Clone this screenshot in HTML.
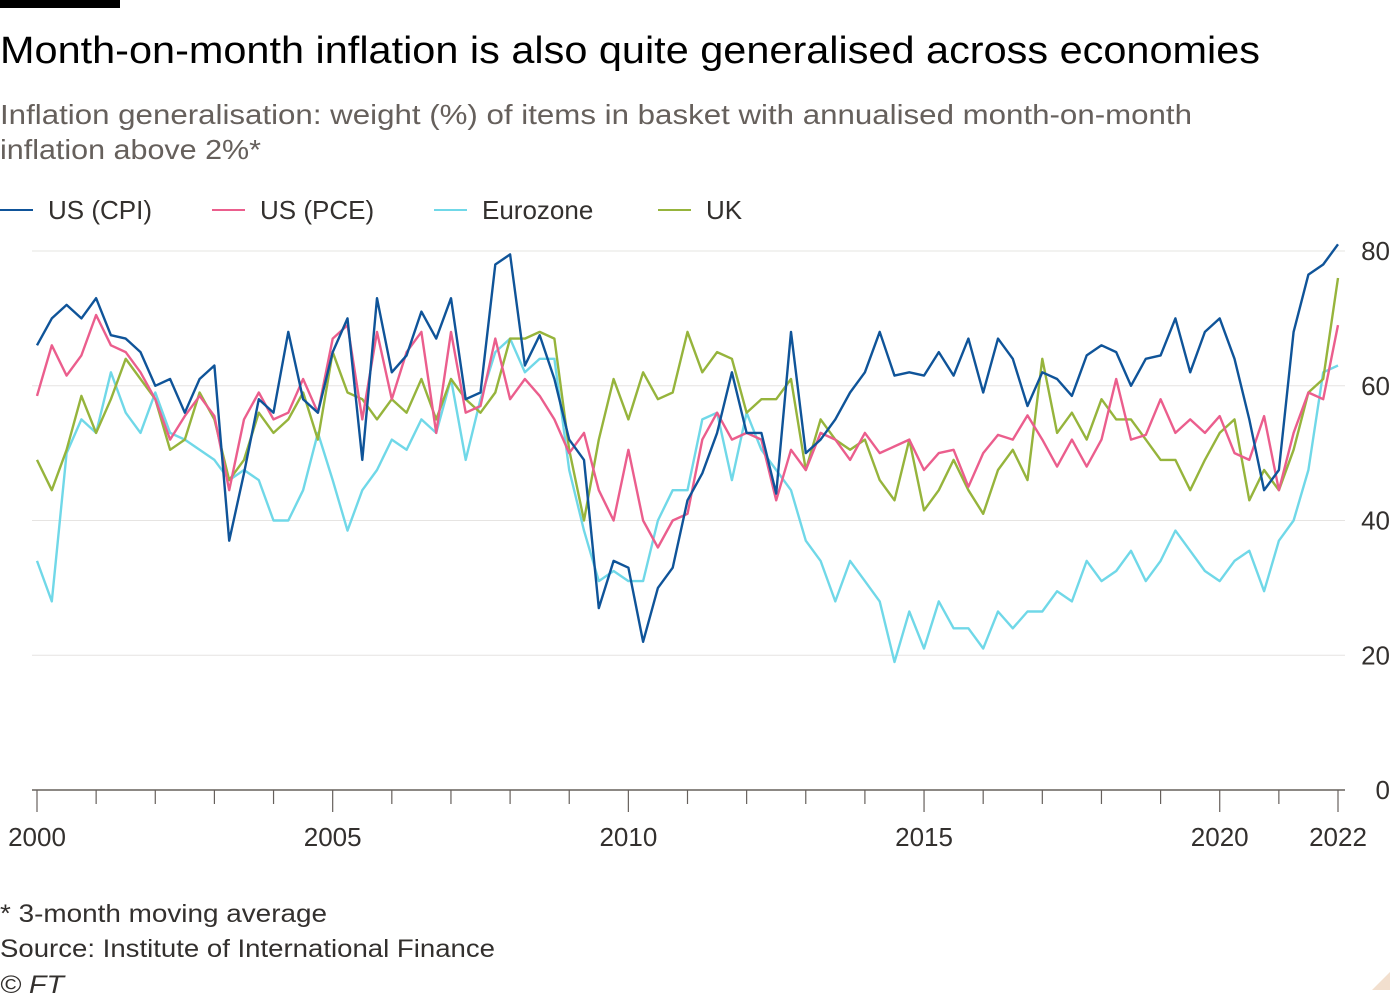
<!DOCTYPE html>
<html><head><meta charset="utf-8"><style>
body{margin:0;background:#fff;width:1400px;height:999px;overflow:hidden;font-family:"Liberation Sans",sans-serif;}
</style></head><body>
<svg width="1400" height="999" style="position:absolute;left:0;top:0">
<rect x="0" y="0" width="120" height="8" fill="#000"/>
<text x="0" y="63" font-size="38" fill="#000" textLength="1260" lengthAdjust="spacingAndGlyphs">Month-on-month inflation is also quite generalised across economies</text>
<text x="0" y="124" font-size="28" fill="#66605c" textLength="1192" lengthAdjust="spacingAndGlyphs">Inflation generalisation: weight (%) of items in basket with annualised month-on-month</text>
<text x="0" y="159" font-size="28" fill="#66605c" textLength="261" lengthAdjust="spacingAndGlyphs">inflation above 2%*</text>
<g id="legend" font-size="26" fill="#33302e"></g>
<g id="grid"></g>
<g id="lines"></g>
<g id="xaxis"></g>
<text x="0" y="922" font-size="25" fill="#33302e" textLength="327" lengthAdjust="spacingAndGlyphs">* 3-month moving average</text>
<text x="0" y="957" font-size="25" fill="#33302e" textLength="495" lengthAdjust="spacingAndGlyphs">Source: Institute of International Finance</text>
<text x="0" y="993" font-size="25" font-style="italic" fill="#33302e" textLength="64" lengthAdjust="spacingAndGlyphs">© FT</text>
<polygon points="1372,990 1390,972 1390,990" fill="#f2dfce"/>
</svg>
<script>
const startYear = 2000;
const stepYears = 0.25;
const yTicks = [0,20,40,60,80];
const xTickLabels = [2000,2005,2010,2015,2020,2022];
const seriesNames = ["US (CPI)","US (PCE)","Eurozone","UK"];
const usCpi = [66,70,72,70,73,67.5,67,65,60,61,56,61,63,37,47,58,56,68,58,56,65,70,49,73,62,64.5,71,67,73,58,59,78,79.5,63,67.5,61,52,49,27,34,33,22,30,33,43,47,53,62,53,53,44,68,50,52,55,59,62,68,61.5,62,61.5,65,61.5,67,59,67,64,57,62,61,58.5,64.5,66,65,60,64,64.5,70,62,68,70,64,55,44.5,47.5,68,76.5,78,81];
const usPce = [58.5,66,61.5,64.5,70.5,66,65,62,58,52,55.5,58.5,55.5,44.5,55,59,55,56,61,56,67,69,55,68,58,65,68,53,68,56,57,67,58,61,58.5,55,50,53,44.5,40,50.5,40,36,40,41,52,56,52,53,52,43,50.5,47.5,53,52,49,53,50,51,52,47.5,50,50.5,45,50,52.7,52,55.6,52,48,52,48,52,61,52,52.7,58,53,55,53,55.5,50,49,55.5,44.5,53,59,58,69];
const eurozone = [34,28,50,55,53,62,56,53,59,53,52,50.5,49,46,47.5,46,40,40,44.5,53,46,38.5,44.5,47.5,52,50.5,55,53,61,49,58,65,67,62,64,64,47.5,38.5,31,32.5,31,31,40,44.5,44.5,55,56,46,56,50.5,47.5,44.5,37,34,28,34,31,28,19,26.5,21,28,24,24,21,26.5,24,26.5,26.5,29.5,28,34,31,32.5,35.5,31,34,38.5,35.5,32.5,31,34,35.5,29.5,37,40,47.5,62,63];
const uk = [49,44.5,50.5,58.5,53,58,64,61,58,50.5,52,59,55,46,49,56,53,55,59,52,65,59,58,55,58,56,61,55,61,58,56,59,67,67,68,67,50.5,40,52,61,55,62,58,59,68,62,65,64,56,58,58,61,47.5,55,52,50.5,52,46,43,52,41.5,44.5,49,44.5,41,47.5,50.5,46,64,53,56,52,58,55,55,52,49,49,44.5,49,53,55,43,47.5,44.5,50.5,59,61,76];
const seriesData = [usCpi,usPce,eurozone,uk];
const colors = ["#0f5499","#eb5e8d","#70d8e8","#96b43c"];
const NS="http://www.w3.org/2000/svg";
const x0=37,x1=1338,yB=790,yT=251;
const xs=yr=>x0+(yr-2000)*(x1-x0)/22;
const ys=v=>yB-v*(yB-yT)/80;
function mk(t,a,p){const e=document.createElementNS(NS,t);for(const k in a)e.setAttribute(k,a[k]);p.appendChild(e);return e;}
const grid=document.getElementById('grid');
yTicks.forEach(v=>{
  if(v>0){const l=mk('line',{x1:32,x2:1345,y1:ys(v),y2:ys(v),stroke:'#e6e4e2','stroke-width':1},grid);
  
  }
  const t=mk('text',{x:1390,y:ys(v)+9,'text-anchor':'end','font-size':26,fill:'#33302e'},grid);
  t.textContent=v;
  
  
});
const xa=document.getElementById('xaxis');
const axl=mk('line',{x1:32,x2:1345,y1:yB,y2:yB,stroke:'#66605c','stroke-width':1.5},xa);


for(let y=2000;y<=2022;y++){
  const big=(y%5===0||y===2022);
  const tk=mk('line',{x1:xs(y),x2:xs(y),y1:yB,y2:yB+(big?22:14),stroke:'#66605c','stroke-width':1.2},xa);
  
  
}
xTickLabels.forEach(y=>{
  const t=mk('text',{x:xs(y),y:846,'text-anchor':'middle','font-size':26,fill:'#33302e'},xa);
  t.textContent=y;
  
  
});
const lg=document.getElementById('legend');
const lx=[0,212,434,658];
seriesNames.forEach((n,i)=>{
  const l=mk('line',{x1:lx[i],x2:lx[i]+33,y1:210,y2:210,stroke:colors[i],'stroke-width':2},lg);
  
  
  const t=mk('text',{x:lx[i]+48,y:219},lg);
  t.textContent=n;
  
  
});
const lines=document.getElementById('lines');
[2,3,1,0].forEach(i=>{
  const d=seriesData[i].map((v,j)=>(j?'L':'M')+xs(startYear+j*stepYears).toFixed(1)+','+ys(v).toFixed(1)).join(' ');
  const p=mk('path',{d:d,fill:'none',stroke:colors[i],'stroke-width':2.4,'stroke-linejoin':'round'},lines);
  
  
});
</script>
</body></html>
